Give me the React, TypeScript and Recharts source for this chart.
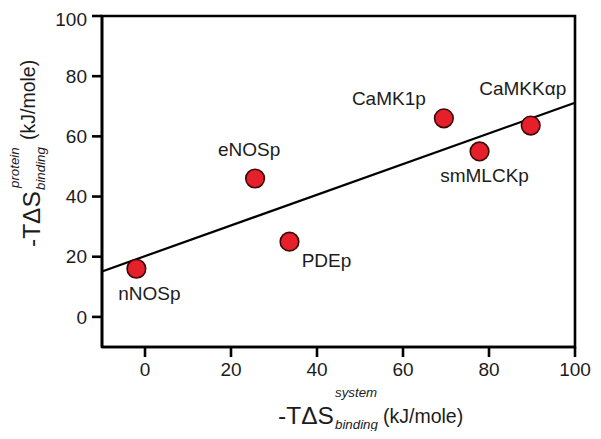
import React from 'react';
import { ScatterChart, Scatter, XAxis, YAxis, ReferenceLine, ReferenceArea, Label } from 'recharts';

// ---- data ----
const peptides = ['nNOSp', 'eNOSp', 'PDEp', 'CaMK1p', 'smMLCKp', 'CaMKK\u03b1p'];
const systemEntropy = [-2, 25.6, 33.6, 69.5, 77.8, 89.7];
const proteinEntropy = [16, 46, 25, 66, 55, 63.6];
const fitX = [-10, 100];
const fitY = [15.1, 71.2];
const xTicks = [0, 20, 40, 60, 80, 100];
const yTicks = [0, 20, 40, 60, 80, 100];
const xDomain = [-10, 100];
const yDomain = [-10, 100];

// ---- layout (label placement relative to each point, px) ----
const labelOffsets: Record<string, [number, number]> = {
  nNOSp: [13, 31],
  eNOSp: [-6, -22],
  PDEp: [37, 25],
  CaMK1p: [-55, -13],
  smMLCKp: [5, 31],
  'CaMKK\u03b1p': [-8, -31],
};

const points = peptides.map((name, i) => ({ name, x: systemEntropy[i], y: proteinEntropy[i] }));

const FONT = '"Liberation Sans", Arial, sans-serif';
const TEXT = '#1c1c1c';

const PointShape = (props: any) => {
  const { cx, cy, payload } = props;
  const off = labelOffsets[payload.name] || [0, -20];
  return (
    <g>
      <circle cx={cx} cy={cy} r={9.3} fill="#e5202a" stroke="#3d0707" strokeWidth={1.6} />
      <text x={cx + off[0]} y={cy + off[1]} textAnchor="middle" fontFamily={FONT} fontSize={19} fill={TEXT}>
        {payload.name}
      </text>
    </g>
  );
};

const XLabel = (props: any) => {
  const vb = props.viewBox || { x: 94, y: 339, width: 473, height: 84 };
  const cx = vb.x + vb.width / 2;
  const y0 = vb.y;
  return (
    <g fontFamily={FONT} fill={TEXT}>
      <text x={cx - 60.5} y={y0 + 77} fontSize={24.5}>-T{'\u0394'}S</text>
      <text x={cx - 3.5} y={y0 + 50} fontSize={13.3} fontStyle="italic">system</text>
      <text x={cx - 3.5} y={y0 + 81.5} fontSize={13.3} fontStyle="italic">binding</text>
      <text x={cx + 44.5} y={y0 + 76} fontSize={19.5}>(kJ/mole)</text>
    </g>
  );
};

const YLabel = (props: any) => {
  const vb = props.viewBox || { x: 0, y: 8, width: 94, height: 331 };
  const cy = vb.y + vb.height / 2;
  return (
    <g fontFamily={FONT} fill={TEXT} transform={`translate(${vb.x}, ${cy}) rotate(-90)`}>
      <text x={-65.5} y={31.5} fontSize={24.5}>-T{'\u0394'}S</text>
      <text x={-6.5} y={10.5} fontSize={13.3} fontStyle="italic">protein</text>
      <text x={-8.5} y={37} fontSize={13.3} fontStyle="italic">binding</text>
      <text x={41.5} y={27} fontSize={19.5}>(kJ/mole)</text>
    </g>
  );
};

const tickStyle = { fontFamily: FONT, fontSize: 19, fill: TEXT };
const lineStyle = { stroke: '#000', strokeWidth: 2.6 };

export default function App() {
  return (
    <div style={{ width: 585, height: 423 }}>
      <ScatterChart
        width={585}
        height={423}
        margin={{ top: 8, right: 18, bottom: 0, left: 0 }}
        style={{ overflow: 'visible' }}
      >
        <XAxis
          type="number"
          dataKey="x"
          domain={xDomain}
          ticks={xTicks}
          height={84}
          tickSize={10}
          tickMargin={6}
          tick={tickStyle}
          axisLine={lineStyle}
          tickLine={lineStyle}
          allowDataOverflow
        >
          <Label content={XLabel} />
        </XAxis>
        <YAxis
          type="number"
          dataKey="y"
          domain={yDomain}
          ticks={yTicks}
          width={94}
          tickSize={10}
          tickMargin={5}
          tick={tickStyle}
          axisLine={lineStyle}
          tickLine={lineStyle}
          allowDataOverflow
        >
          <Label content={YLabel} />
        </YAxis>
        <ReferenceArea
          x1={xDomain[0]}
          x2={xDomain[1]}
          y1={yDomain[0]}
          y2={yDomain[1]}
          fill="none"
          fillOpacity={0}
          stroke="#000"
          strokeWidth={2.6}
          strokeOpacity={1}
        />
        <ReferenceLine
          segment={[
            { x: fitX[0], y: fitY[0] },
            { x: fitX[1], y: fitY[1] },
          ]}
          stroke="#000"
          strokeWidth={2.2}
        />
        <Scatter data={points} shape={PointShape} isAnimationActive={false} />
      </ScatterChart>
    </div>
  );
}
